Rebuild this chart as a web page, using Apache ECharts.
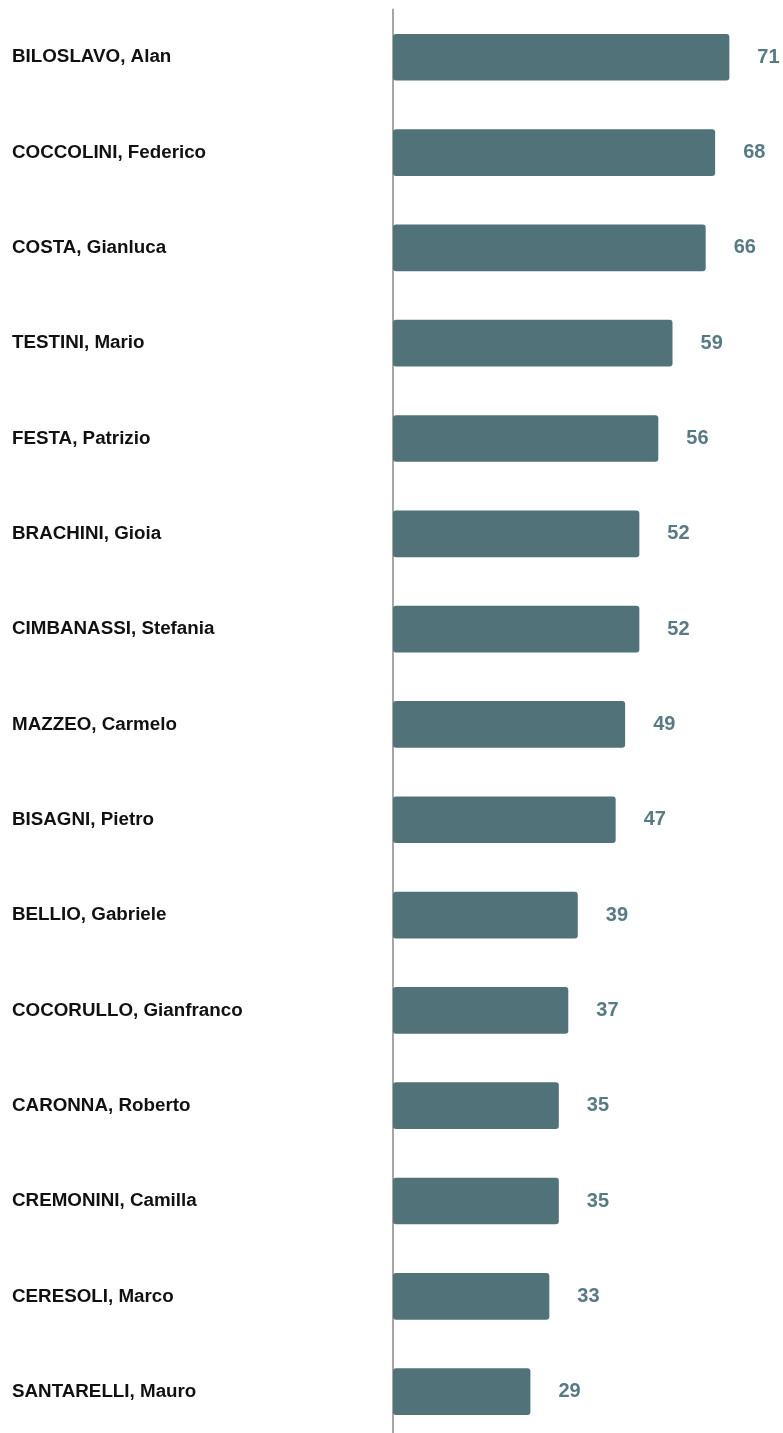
<!DOCTYPE html>
<html>
<head>
<meta charset="utf-8">
<script src="https://cdn.jsdelivr.net/npm/echarts@6/dist/echarts.min.js"></script>
<style>
html,body{margin:0;padding:0;background:#fff;overflow:hidden;}
#chart{width:783px;height:1445px;}
</style>
</head>
<body>
<div id="chart"></div>
<script>
const categories = [
  "BILOSLAVO, Alan",
  "COCCOLINI, Federico",
  "COSTA, Gianluca",
  "TESTINI, Mario",
  "FESTA, Patrizio",
  "BRACHINI, Gioia",
  "CIMBANASSI, Stefania",
  "MAZZEO, Carmelo",
  "BISAGNI, Pietro",
  "BELLIO, Gabriele",
  "COCORULLO, Gianfranco",
  "CARONNA, Roberto",
  "CREMONINI, Camilla",
  "CERESOLI, Marco",
  "SANTARELLI, Mauro"
];
const values = [71, 68, 66, 59, 56, 52, 52, 49, 47, 39, 37, 35, 35, 33, 29];

const chart = echarts.init(document.getElementById('chart'));
chart.setOption({
  animation: false,
  backgroundColor: '#ffffff',
  grid: { left: 393, top: 9.6, width: 379, height: 1429.7 },
  xAxis: {
    type: 'value', min: 0, max: 80,
    show: false
  },
  yAxis: {
    type: 'category',
    data: categories,
    inverse: true,
    axisLine: { show: true, lineStyle: { color: '#a6a6a6', width: 2 } },
    axisTick: { show: false },
    splitLine: { show: false },
    axisLabel: {
      align: 'left',
      margin: 381,
      color: '#111111',
      fontWeight: 'bold',
      fontSize: 18.8,
      fontFamily: 'Liberation Sans'
    }
  },
  series: [{
    type: 'bar',
    data: values,
    barWidth: '49%',
    itemStyle: { color: '#517279', borderRadius: 3 },
    label: {
      show: true,
      position: 'right',
      distance: 28,
      color: '#587a82',
      fontWeight: 'bold',
      fontSize: 20,
      fontFamily: 'Liberation Sans'
    }
  }]
});
</script>
</body>
</html>
